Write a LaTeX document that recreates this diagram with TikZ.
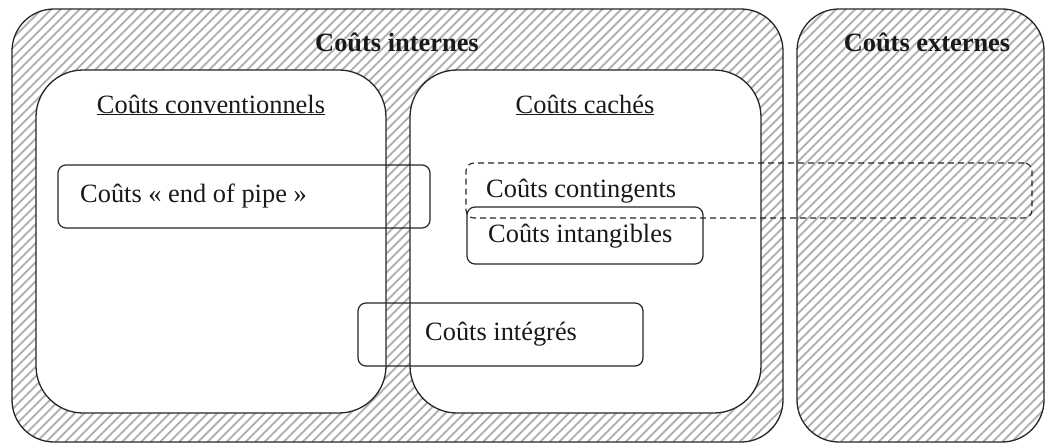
\documentclass[tikz,border=0pt]{standalone}
\usepackage{fontspec}
\setmainfont{Liberation Serif}
\begin{document}
\begin{tikzpicture}[x=1pt,y=-1pt,
  bigbox/.style={draw=black!85, line width=1.3pt, rounded corners=42pt, inner sep=0pt, outer sep=0pt,
    path picture={\foreach \k in {-460,-450.5,...,800}
      \draw[gray!60, line width=2pt] ([xshift=\k pt]path picture bounding box.south west) -- ++(480pt,480pt);}},
  innerbox/.style={draw=black!85, fill=white, line width=1.3pt, rounded corners=47pt, inner sep=0pt, outer sep=0pt},
  smallbox/.style={draw=black!85, line width=1.2pt, rounded corners=8pt, inner sep=0pt, outer sep=0pt},
  dashbox/.style={smallbox, dashed, dash pattern=on 6pt off 4pt, line width=1.1pt},
  lbl/.style={font=\fontsize{26.4pt}{30pt}\selectfont, inner sep=0pt, text=black!90},
  title/.style={lbl, font=\fontsize{26.4pt}{30pt}\selectfont\bfseries}
]
\useasboundingbox (0,0) rectangle (1049,444);
% main boxes
\node[bigbox, minimum width=771pt, minimum height=433pt] (internes) at (397.5,225.5) {};
\node[bigbox, minimum width=247pt, minimum height=433pt] (externes) at (920.5,225.5) {};
\node[innerbox, minimum width=350pt, minimum height=343pt] (conv) at (211,241.5) {};
\node[innerbox, minimum width=351pt, minimum height=343pt] (caches) at (585.5,241.5) {};
% small boxes
\node[smallbox, minimum width=372pt, minimum height=63pt] (eop) at (244,196.5) {};
\node[dashbox, minimum width=566pt, minimum height=55pt] (cont) at (749,190.5) {};
\node[smallbox, minimum width=236pt, minimum height=57pt] (intang) at (585,235.5) {};
\node[smallbox, minimum width=285pt, minimum height=63pt] (integ) at (500.5,334.5) {};
% titles
\node[title, anchor=base] (t-int) at (397,52) {Coûts internes};
\node[title, anchor=base] (t-ext) at (927,52) {Coûts externes};
\node[lbl, anchor=base] (t-conv) at (211,113) {\underline{Coûts conventionnels}};
\node[lbl, anchor=base] (t-cach) at (585,113) {\underline{Coûts cachés}};
% labels
\node[lbl, anchor=base west] (t-eop) at (80,202) {Coûts « end of pipe »};
\node[lbl, anchor=base west] (t-cont) at (486,197) {Coûts contingents};
\node[lbl, anchor=base west] (t-intang) at (488,242) {Coûts intangibles};
\node[lbl, anchor=base west] (t-integ) at (425,340) {Coûts intégrés};
\end{tikzpicture}
\end{document}
